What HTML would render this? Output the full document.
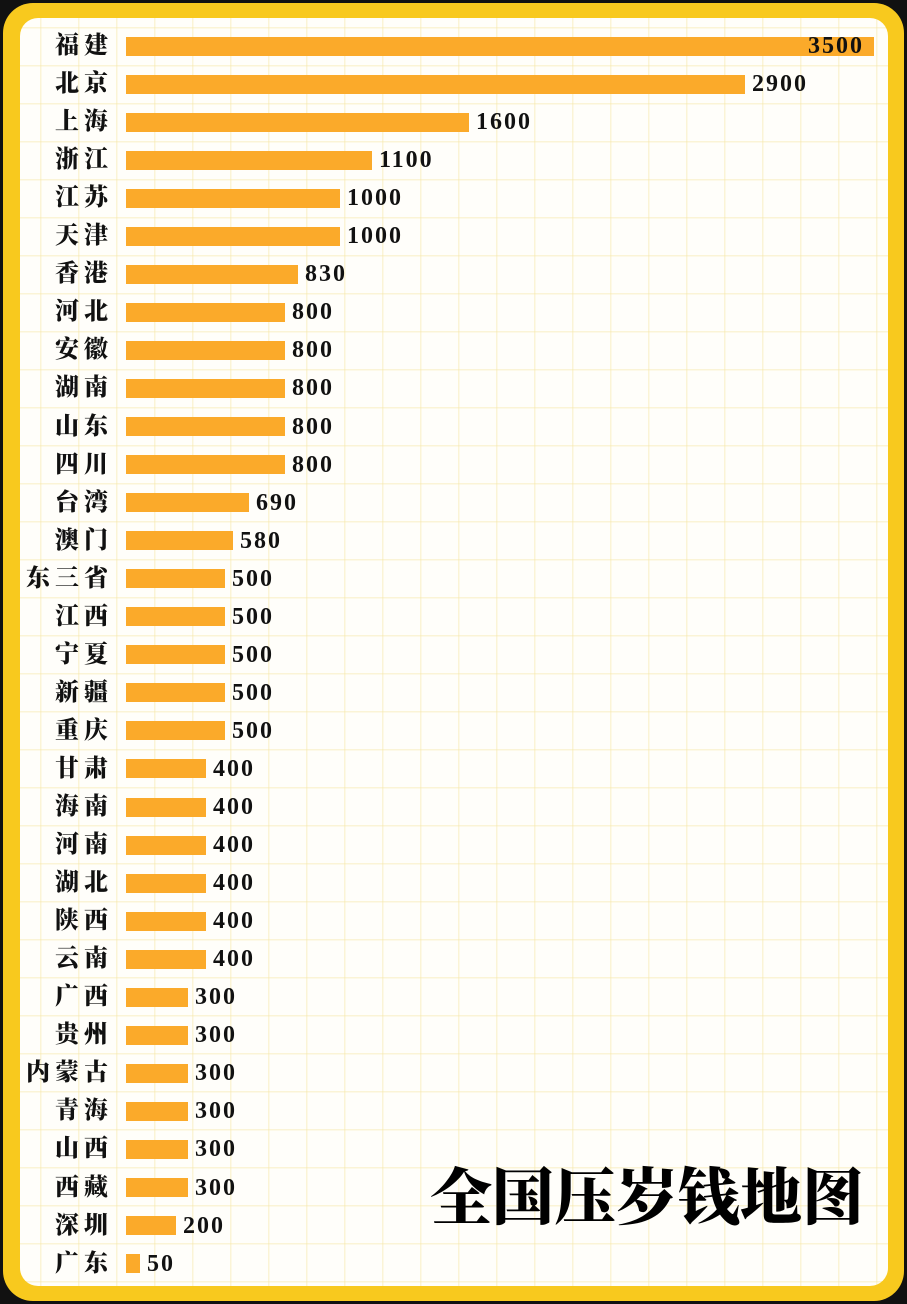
<!DOCTYPE html>
<html><head><meta charset="utf-8"><style>
body{margin:0;width:907px;height:1304px;background:#111;position:relative;overflow:hidden;font-family:"Liberation Serif","Noto Serif CJK SC",serif}
.frame{position:absolute;left:3px;top:3px;width:901px;height:1298px;background:#f8c91e;border-radius:30px}
.inner{position:absolute;left:20px;top:18px;width:868px;height:1268px;border-radius:18px;background-color:#fffefa;
background-image:linear-gradient(90deg,rgba(246,232,170,.45) 1.5px,transparent 1.5px),linear-gradient(rgba(246,232,170,.45) 1.5px,transparent 1.5px);
background-size:38px 38px;background-position:96px 9px}
.lab{position:absolute;right:799px;font-size:24px;font-weight:900;color:#111;line-height:24px;letter-spacing:5px;white-space:nowrap}
.bar{position:absolute;left:126px;height:19px;background:#fbaa2a}
.val{position:absolute;font-size:24px;font-weight:bold;color:#111;line-height:24px;letter-spacing:2px}
.title{position:absolute;left:430px;top:1158px;font-size:62px;font-weight:900;font-family:"Noto Serif CJK SC",serif;color:#000;line-height:70px}
</style></head><body>
<div class="frame"></div><div class="inner"></div>
<div id="c"></div>
<div class="title">全国压岁钱地图</div>
<script>
const E={3500:874,2900:745,1600:469,1100:372,1000:340,830:298,800:285,690:249,580:233,500:225,400:206,300:188,200:176,50:140};
const d=[["福建",3500],["北京",2900],["上海",1600],["浙江",1100],["江苏",1000],["天津",1000],["香港",830],["河北",800],["安徽",800],["湖南",800],["山东",800],["四川",800],["台湾",690],["澳门",580],["东三省",500],["江西",500],["宁夏",500],["新疆",500],["重庆",500],["甘肃",400],["海南",400],["河南",400],["湖北",400],["陕西",400],["云南",400],["广西",300],["贵州",300],["内蒙古",300],["青海",300],["山西",300],["西藏",300],["深圳",200],["广东",50]];
let h="";d.forEach((r,i)=>{const cy=46+i*38.05;const w=E[r[1]]-126;
h+=`<div class="lab" style="top:${cy-12}px;margin-right:-5px">${r[0]}</div>`;
h+=`<div class="bar" style="top:${cy-9.5}px;width:${w}px"></div>`;
if(i==0)h+=`<div class="val" style="top:${cy-12}px;left:808px">${r[1]}</div>`;
else h+=`<div class="val" style="top:${cy-12}px;left:${126+w+7}px">${r[1]}</div>`;});
document.getElementById("c").innerHTML=h;
</script>
</body></html>
